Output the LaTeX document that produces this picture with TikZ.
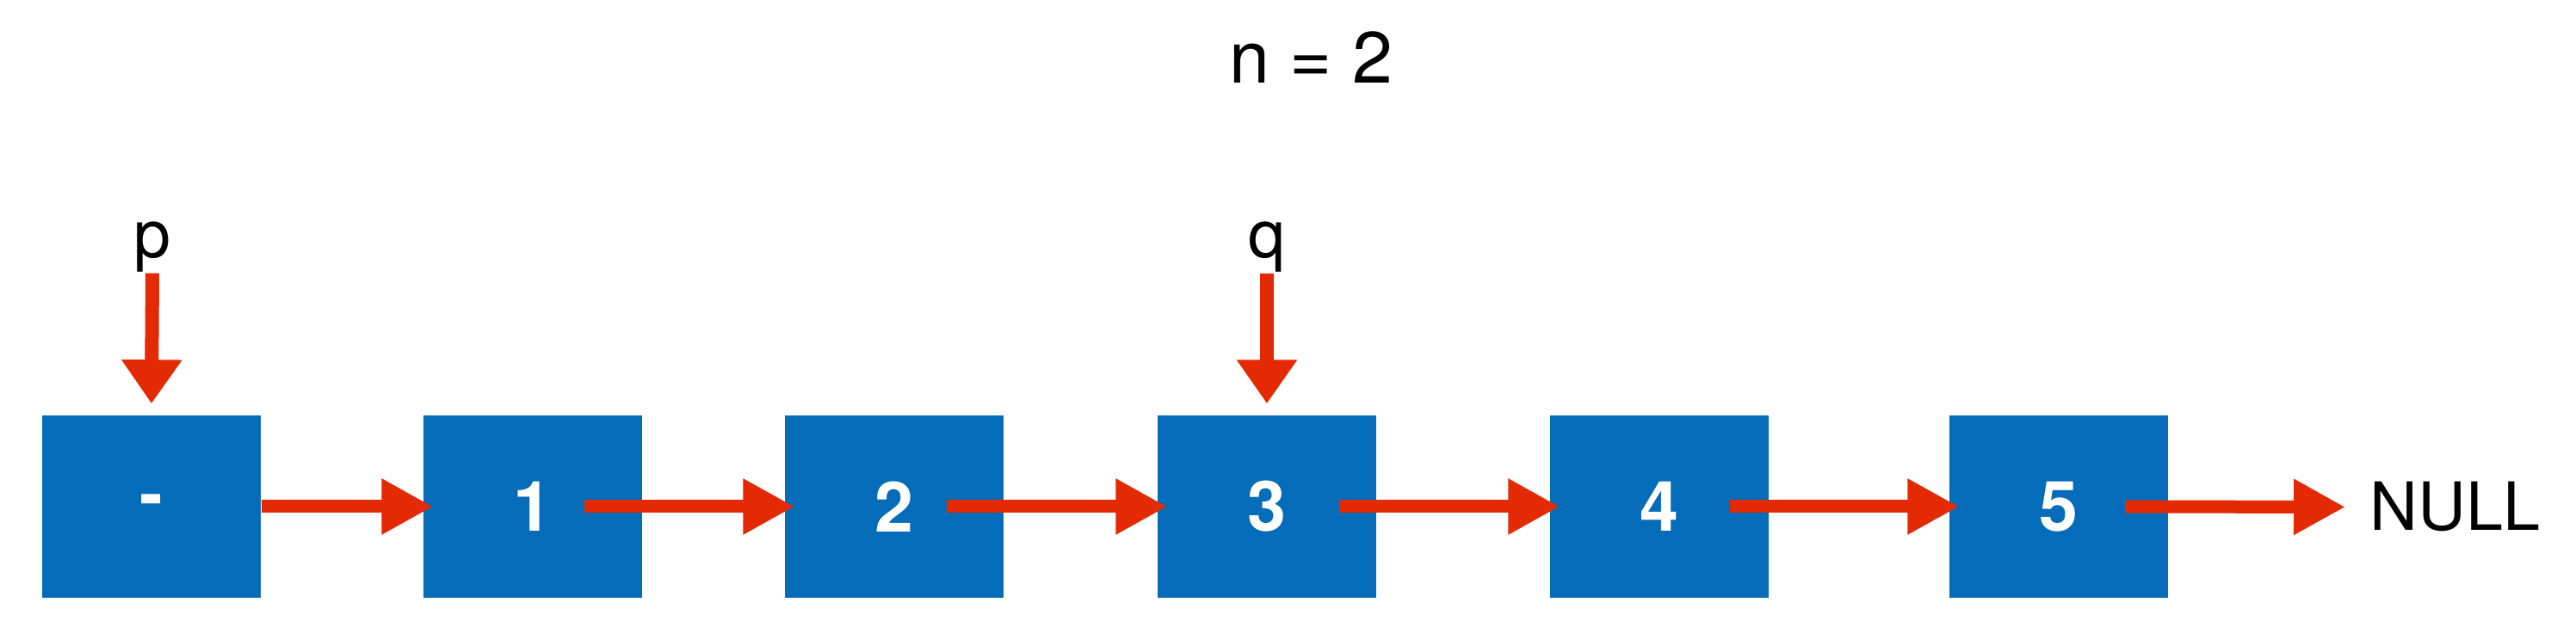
\documentclass[tikz,border=0pt]{standalone}
\usepackage{fontspec}
\setmainfont{TeX Gyre Heros}
\usetikzlibrary{arrows.meta}
\definecolor{NodeBlue}{RGB}{4,108,184}
\definecolor{LinkRed}{RGB}{228,42,4}

\begin{document}
\begin{tikzpicture}[>={Triangle[length=6mm,width=6.1mm]},
  box/.style={fill=NodeBlue,minimum width=2.54cm,minimum height=2.12cm,inner sep=0pt,text=white,font=\fontsize{23}{27}\selectfont\bfseries},
  link/.style={LinkRed,line width=1.5mm,->},
  ptr/.style={LinkRed,line width=1.6mm,-{Triangle[length=5.1mm,width=6.7mm]}},
  lbl/.style={inner sep=0pt,font=\fontsize{22}{26}\selectfont}]
\useasboundingbox (0,0) rectangle (29.93,7.22);
\node[lbl,anchor=base,font=\fontsize{24}{28}\selectfont] (cnt) at (15.23,6.25){n = 2};
\node[box] (h) at (1.76,1.33){-};\node[box] (a1) at (6.19,1.33){1};\node[box] (a2) at (10.39,1.33){2};
\node[box] (a3) at (14.72,1.33){3};\node[box] (a4) at (19.28,1.33){4};\node[box] (a5) at (23.92,1.33){5};
\node[lbl,anchor=base west] (null) at (27.53,1.05){NULL};
\node[lbl,anchor=base] (p) at (1.77,4.22){p};\node[lbl,anchor=base] (q) at (14.72,4.22){q};
\draw[link] (h.east)--([xshift=1.2mm]a1.west);\draw[link] ([xshift=6mm]a1.center)--([xshift=1.2mm]a2.west);
\draw[link] ([xshift=6.1mm]a2.center)--([xshift=1.2mm]a3.west);\draw[link] ([xshift=8.4mm]a3.center)--([xshift=1.2mm]a4.west);
\draw[link] ([xshift=8.2mm]a4.center)--([xshift=1.2mm]a5.west);\draw[link] ([xshift=7.7mm]a5.center)--([xshift=-2.8mm]null.west);
\draw[ptr] (p.south)--([yshift=1.3mm]h.north);\draw[ptr] (q.south)--([yshift=1.3mm]a3.north);
\end{tikzpicture}
\end{document}
